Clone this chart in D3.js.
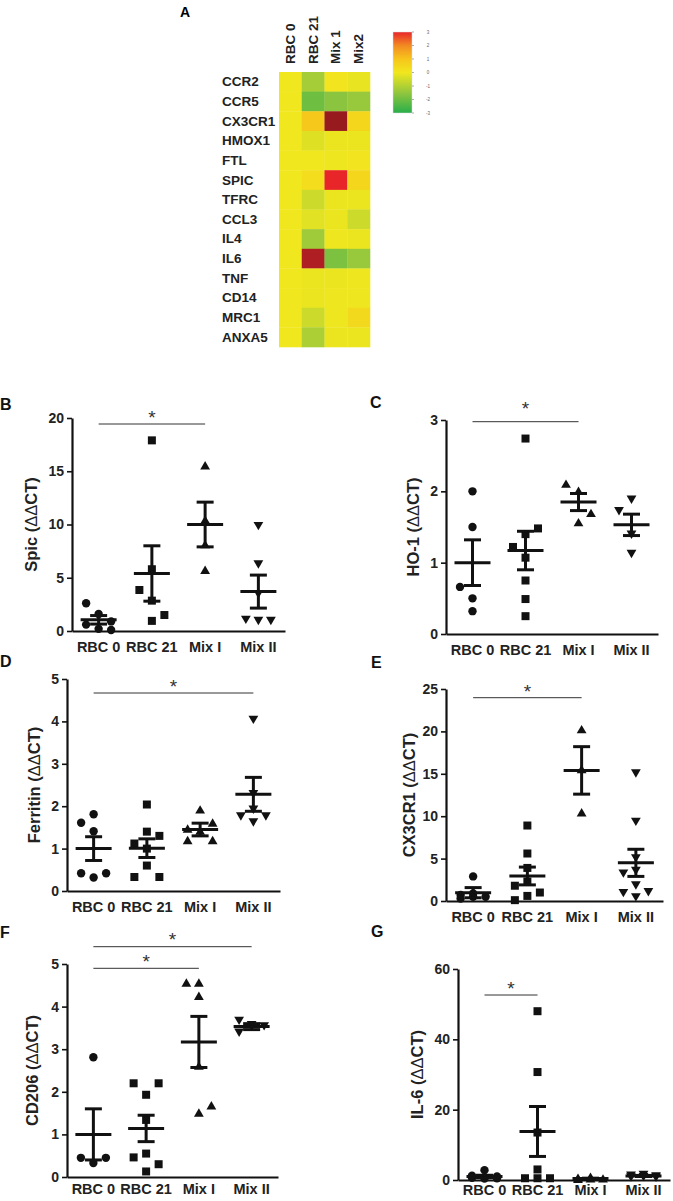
<!DOCTYPE html>
<html><head><meta charset="utf-8">
<script src="https://cdn.jsdelivr.net/npm/d3@7"></script>
<style>
body{margin:0;background:#fff;}
svg{display:block;font-family:"Liberation Sans",Arial,Helvetica,sans-serif;}
</style>
</head><body>
<svg id="chart" width="673" height="1201"></svg>
<script>
// ================= DATA =================
const heatColumns = ["RBC 0", "RBC 21", "Mix 1", "Mix2"];
const heatGenes = ["CCR2","CCR5","CX3CR1","HMOX1","FTL","SPIC","TFRC","CCL3","IL4","IL6","TNF","CD14","MRC1","ANXA5"];
const heatValues = [
  [0, -1.2,  0.1, -0.15],
  [0, -2.0, -1.6, -1.4],
  [0,  0.9,  5.0,  0.5],
  [0, -0.3, -0.1, -0.1],
  [0,  0.0, -0.05, 0.1],
  [0,  0.3,  3.0,  0.5],
  [0, -0.6, -0.1, -0.1],
  [0, -0.25,-0.1, -0.6],
  [0, -1.3, -0.05,-0.1],
  [0,  4.4, -1.8, -1.4],
  [0, -0.1, -0.1, -0.05],
  [0, -0.1, -0.05,-0.05],
  [0, -0.6, -0.05, 0.4],
  [0, -1.1, -0.1, -0.1]
];
const colorbarTicks = [3, 2, 1, 0, -1, -2, -3];

const groups = ["RBC 0", "RBC 21", "Mix I", "Mix II"];

// B: Spic
const spicPoints = [[1.6, 2.6, 0.9, 0.6, 0.2, 0.1], [17.9, 5.8, 2.85, 3.85, 0.95, 1.5], [15.5, 10.4, 8.1, 5.7], [9.9, 6.3, 3.5, 1.0, 1.1, 1.0]];
const spicMean = [1.05, 5.4, 10.0, 3.7];
const spicSem = [0.4, 2.6, 2.1, 1.55];
const spicTicks = [0, 5, 10, 15, 20];
const spicSig = [[0, 2]];

// C: HO-1
const ho1Points = [[2.0, 1.5, 0.5, 0.66, 0.32], [2.74, 1.4, 1.07, 1.22, 1.48, 0.75, 0.49, 0.25], [2.0, 2.1, 1.56, 1.69], [1.89, 1.73, 1.4, 1.13]];
const ho1Mean = [1.0, 1.17, 1.85, 1.53];
const ho1Sem = [0.32, 0.27, 0.12, 0.15];
const ho1Ticks = [0, 1, 2, 3];
const ho1Sig = [[0, 2]];

// D: Ferritin
const ferritinPoints = [[1.81, 1.61, 1.41, 0.32, 0.42, 0.42], [2.04, 1.4, 1.12, 1.3, 1.0, 0.6, 0.33, 0.33], [1.91, 1.41, 1.46, 1.19, 1.19, 1.6], [4.05, 2.3, 1.93, 1.77, 1.77, 1.63]];
const ferritinMean = [1.0, 1.01, 1.45, 2.28];
const ferritinSem = [0.28, 0.22, 0.15, 0.4];
const ferritinTicks = [0, 1, 2, 3, 4, 5];
const ferritinSig = [[0, 3]];

// E: CX3CR1
const cx3cr1Points = [[2.9, 0.9, 0.7, 0.5, 0.5, 0.3], [8.9, 5.6, 3.9, 2.3, 1.8, 1.0, 0.6, 0.1], [20.2, 15.5, 10.4], [15.1, 9.4, 5.1, 3.6, 3.3, 1.9, 1.1, 1.0, 0.5]];
const cx3cr1Mean = [0.98, 2.95, 15.4, 4.5];
const cx3cr1Sem = [0.6, 1.05, 2.8, 1.6];
const cx3cr1Ticks = [0, 5, 10, 15, 20, 25];
const cx3cr1Sig = [[0, 2]];

// F: CD206
const cd206Points = [[2.81, 0.33, 0.45, 0.45], [1.93, 2.2, 2.2, 1.34, 0.55, 0.46, 0.3, 0.13], [4.24, 4.55, 4.55, 2.6, 1.5, 1.67], [3.58, 3.68, 3.55, 3.4]];
const cd206Mean = [1.0, 1.14, 3.17, 3.53];
const cd206Sem = [0.6, 0.31, 0.6, 0.07];
const cd206Ticks = [0, 1, 2, 3, 4, 5];
const cd206Sig = [[0, 3], [0, 2]];

// G: IL-6
const il6Points = [[2.8, 1.2, 1.0, 0.8, 0.6, 0.5, 0.4], [48, 30.7, 13.5, 0.5, 0.5, 0.5, 3.0], [0.8, 0.5, 0.3, 0.3, 0.2], [1.6, 1.4, 1.2, 1.0, 0.9, 0.8]];
const il6Mean = [1.0, 13.8, 0.4, 1.15];
const il6Sem = [0.35, 7.1, 0.12, 0.15];
const il6Ticks = [0, 20, 40, 60];
const il6Sig = [[0, 1]];

// ================= DRAW =================
const svg = d3.select("#chart");
const INK = "#111";
const FONT = '"Liberation Sans",Arial,sans-serif';

// ---- Heatmap (A) ----
const heatColor = d3.scaleLinear()
  .domain([-3, -1.5, 0, 1, 2, 3, 5])
  .range(["#27ae4a", "#92c63e", "#f1e71e", "#f7c51b", "#f28a22", "#e8262a", "#961a1e"])
  .clamp(true);

const hx = d3.scaleBand().domain(heatColumns).range([279, 370]);
const hy = d3.scaleBand().domain(heatGenes).range([72, 347]);

const hg = svg.append("g");
heatGenes.forEach((g, r) => {
  heatColumns.forEach((c, k) => {
    hg.append("rect")
      .attr("x", hx(c)).attr("y", hy(g))
      .attr("width", hx.bandwidth() + 0.3).attr("height", hy.bandwidth() + 0.3)
      .attr("fill", heatColor(heatValues[r][k]));
  });
});
hg.selectAll("text.gene").data(heatGenes).join("text")
  .attr("class", "gene")
  .attr("x", 222).attr("y", d => hy(d) + hy.bandwidth() / 2)
  .attr("dominant-baseline", "central")
  .attr("font-size", 13.5).attr("font-weight", "bold").attr("fill", "#222")
  .text(d => d);
hg.selectAll("text.col").data(heatColumns).join("text")
  .attr("class", "col")
  .attr("transform", d => `translate(${hx(d) + hx.bandwidth() / 2},64) rotate(-90)`)
  .attr("dominant-baseline", "central")
  .attr("font-size", 13.5).attr("font-weight", "bold").attr("fill", "#222")
  .text(d => d);
svg.append("text").attr("x", 180).attr("y", 17)
  .attr("font-size", 14).attr("font-weight", "bold").text("A");

// colorbar
const cbY = d3.scaleLinear().domain([3, -3]).range([32, 113]);
const defs = svg.append("defs");
const grad = defs.append("linearGradient").attr("id", "cbgrad")
  .attr("x1", 0).attr("y1", 0).attr("x2", 0).attr("y2", 1);
d3.range(3, -3.01, -0.5).forEach(v => {
  grad.append("stop").attr("offset", (3 - v) / 6).attr("stop-color", heatColor(v));
});
svg.append("rect").attr("x", 393).attr("y", cbY(3)).attr("width", 19)
  .attr("height", cbY(-3) - cbY(3)).attr("fill", "url(#cbgrad)")
  .attr("stroke", "#ddd").attr("stroke-width", 0.5);
colorbarTicks.forEach(t => {
  svg.append("line").attr("x1", 412).attr("x2", 414).attr("y1", cbY(t)).attr("y2", cbY(t))
    .attr("stroke", "#777").attr("stroke-width", 0.6);
  svg.append("text").attr("x", 428).attr("y", cbY(t)).attr("dominant-baseline", "central")
    .attr("text-anchor", "middle").attr("font-size", 4.5).attr("fill", "#666").text(t);
});

// ---- Scatter panels ----
const markerPath = {
  2: "M0,-4.8L4.9,3.6L-4.9,3.6Z",
  3: "M0,4.8L4.9,-3.6L-4.9,-3.6Z"
};

function layoutGroup(values, y, s, thr) {
  const placed = [];
  let side = -1;
  values.forEach(v => {
    const py = y(v);
    const cands = [0, side, -side];
    let best = 0, bestScore = -1;
    for (const c of cands) {
      let minD = Infinity;
      placed.forEach(p => { if (p.slot === c) minD = Math.min(minD, Math.abs(p.py - py)); });
      if (minD >= thr) { best = c; bestScore = Infinity; break; }
      if (minD > bestScore) { bestScore = minD; best = c; }
    }
    if (best !== 0) side = -best;
    placed.push({ v, py, slot: best, dx: best * s });
  });
  return placed;
}

const panels = [
  { letter: "B", lx: 0, ly: 410, title: "Spic", points: spicPoints, mean: spicMean, sem: spicSem, ticks: spicTicks, sig: spicSig,
    x0: 72, x1: 285, yBase: 631, yTop: 418, labelX: 31, sigY: [424], starY: [413], xPad: 11 },
  { letter: "C", lx: 370, ly: 408, title: "HO-1", points: ho1Points, mean: ho1Mean, sem: ho1Sem, ticks: ho1Ticks, sig: ho1Sig,
    x0: 446, x1: 658, yBase: 634, yTop: 420, labelX: 413, sigY: [421.7], starY: [404], xPad: 11 },
  { letter: "D", lx: 0, ly: 667, title: "Ferritin", points: ferritinPoints, mean: ferritinMean, sem: ferritinSem, ticks: ferritinTicks, sig: ferritinSig,
    x0: 67, x1: 280, yBase: 891, yTop: 679, labelX: 34, sigY: [693], starY: [682], xPad: 11 },
  { letter: "E", lx: 371, ly: 668, title: "CX3CR1", points: cx3cr1Points, mean: cx3cr1Mean, sem: cx3cr1Sem, ticks: cx3cr1Ticks, sig: cx3cr1Sig,
    x0: 446, x1: 663, yBase: 901, yTop: 689, labelX: 409, sigY: [697.7], starY: [687], xPad: 11 },
  { letter: "F", lx: 0, ly: 938, title: "CD206", points: cd206Points, mean: cd206Mean, sem: cd206Sem, ticks: cd206Ticks, sig: cd206Sig,
    x0: 67, x1: 278, yBase: 1177, yTop: 964, labelX: 32, sigY: [946.7, 968.3], starY: [935, 957], xPad: 7 },
  { letter: "G", lx: 371, ly: 937, title: "IL-6", points: il6Points, mean: il6Mean, sem: il6Sem, ticks: il6Ticks, sig: il6Sig,
    x0: 458, x1: 670, yBase: 1180, yTop: 969, labelX: 417, sigY: [995], starY: [984], xPad: 5 }
];

panels.forEach(p => {
  const g = svg.append("g");
  const x = d3.scaleBand().domain(groups).range([p.x0, p.x1]);
  const y = d3.scaleLinear().domain([0, p.ticks[p.ticks.length - 1]]).range([p.yBase, p.yTop]);
  const cx = i => x(groups[i]) + x.bandwidth() / 2;

  // letter
  g.append("text").attr("x", p.lx).attr("y", p.ly).attr("font-size", 16).attr("font-weight", "bold").attr("fill", INK).text(p.letter);

  // y axis
  const ya = g.append("g").attr("transform", `translate(${p.x0},0)`)
    .call(d3.axisLeft(y).tickValues(p.ticks).tickFormat(d3.format("d")).tickSize(5).tickSizeOuter(0).tickPadding(3));
  ya.select(".domain").attr("stroke", INK).attr("stroke-width", 2.2);
  ya.selectAll(".tick line").attr("stroke", INK).attr("stroke-width", 1.6);
  ya.selectAll(".tick text").attr("font-size", 14).attr("font-weight", "bold").attr("fill", "#222")
    .attr("font-family", FONT);

  // x axis
  const xa = g.append("g").attr("transform", `translate(0,${p.yBase})`)
    .call(d3.axisBottom(x).tickSize(0).tickSizeOuter(0).tickPadding(p.xPad));
  xa.select(".domain").attr("stroke", INK).attr("stroke-width", 2.2);
  xa.selectAll(".tick text").attr("font-size", 14.5).attr("font-weight", "bold").attr("fill", "#222")
    .attr("font-family", FONT);

  // y label
  const yl = g.append("text")
    .attr("transform", `translate(${p.labelX},${(p.yTop + p.yBase) / 2}) rotate(-90)`)
    .attr("text-anchor", "middle").attr("dominant-baseline", "central")
    .attr("font-size", 16.5).attr("font-weight", "bold").attr("fill", "#222");
  yl.append("tspan").text(p.title + " (");
  yl.append("tspan").attr("font-weight", "normal").text("ΔΔ");
  yl.append("tspan").text("CT)");

  // significance
  p.sig.forEach((s, k) => {
    const xa1 = cx(s[0]), xa2 = cx(s[1]);
    g.append("line").attr("x1", xa1).attr("x2", xa2).attr("y1", p.sigY[k]).attr("y2", p.sigY[k])
      .attr("stroke", "#333").attr("stroke-width", 1);
    g.append("text").attr("x", (xa1 + xa2) / 2).attr("y", p.starY[k] + 11)
      .attr("text-anchor", "middle").attr("font-size", 19).attr("fill", "#333").text("*");
  });

  // points
  p.points.forEach((vals, i) => {
    const placed = layoutGroup(vals, y, 12.5, 12);
    placed.forEach(pt => {
      const px = cx(i) + pt.dx, py = pt.py;
      if (i === 0) {
        g.append("circle").attr("cx", px).attr("cy", py).attr("r", 4.2).attr("fill", INK);
      } else if (i === 1) {
        g.append("rect").attr("x", px - 4).attr("y", py - 4).attr("width", 8).attr("height", 8).attr("fill", INK);
      } else {
        g.append("path").attr("transform", `translate(${px},${py})`).attr("d", markerPath[i]).attr("fill", INK);
      }
    });
    // mean + SEM
    const m = p.mean[i], se = p.sem[i], c = cx(i);
    const bar = (x1, x2, y1, y2) => g.append("line").attr("x1", x1).attr("x2", x2).attr("y1", y1).attr("y2", y2)
      .attr("stroke", INK).attr("stroke-width", 3);
    bar(c - 18, c + 18, y(m), y(m));
    bar(c, c, y(m + se), y(Math.max(0, m - se)));
    bar(c - 8.5, c + 8.5, y(m + se), y(m + se));
    bar(c - 8.5, c + 8.5, y(Math.max(0, m - se)), y(Math.max(0, m - se)));
  });
});
</script>
</body></html>
